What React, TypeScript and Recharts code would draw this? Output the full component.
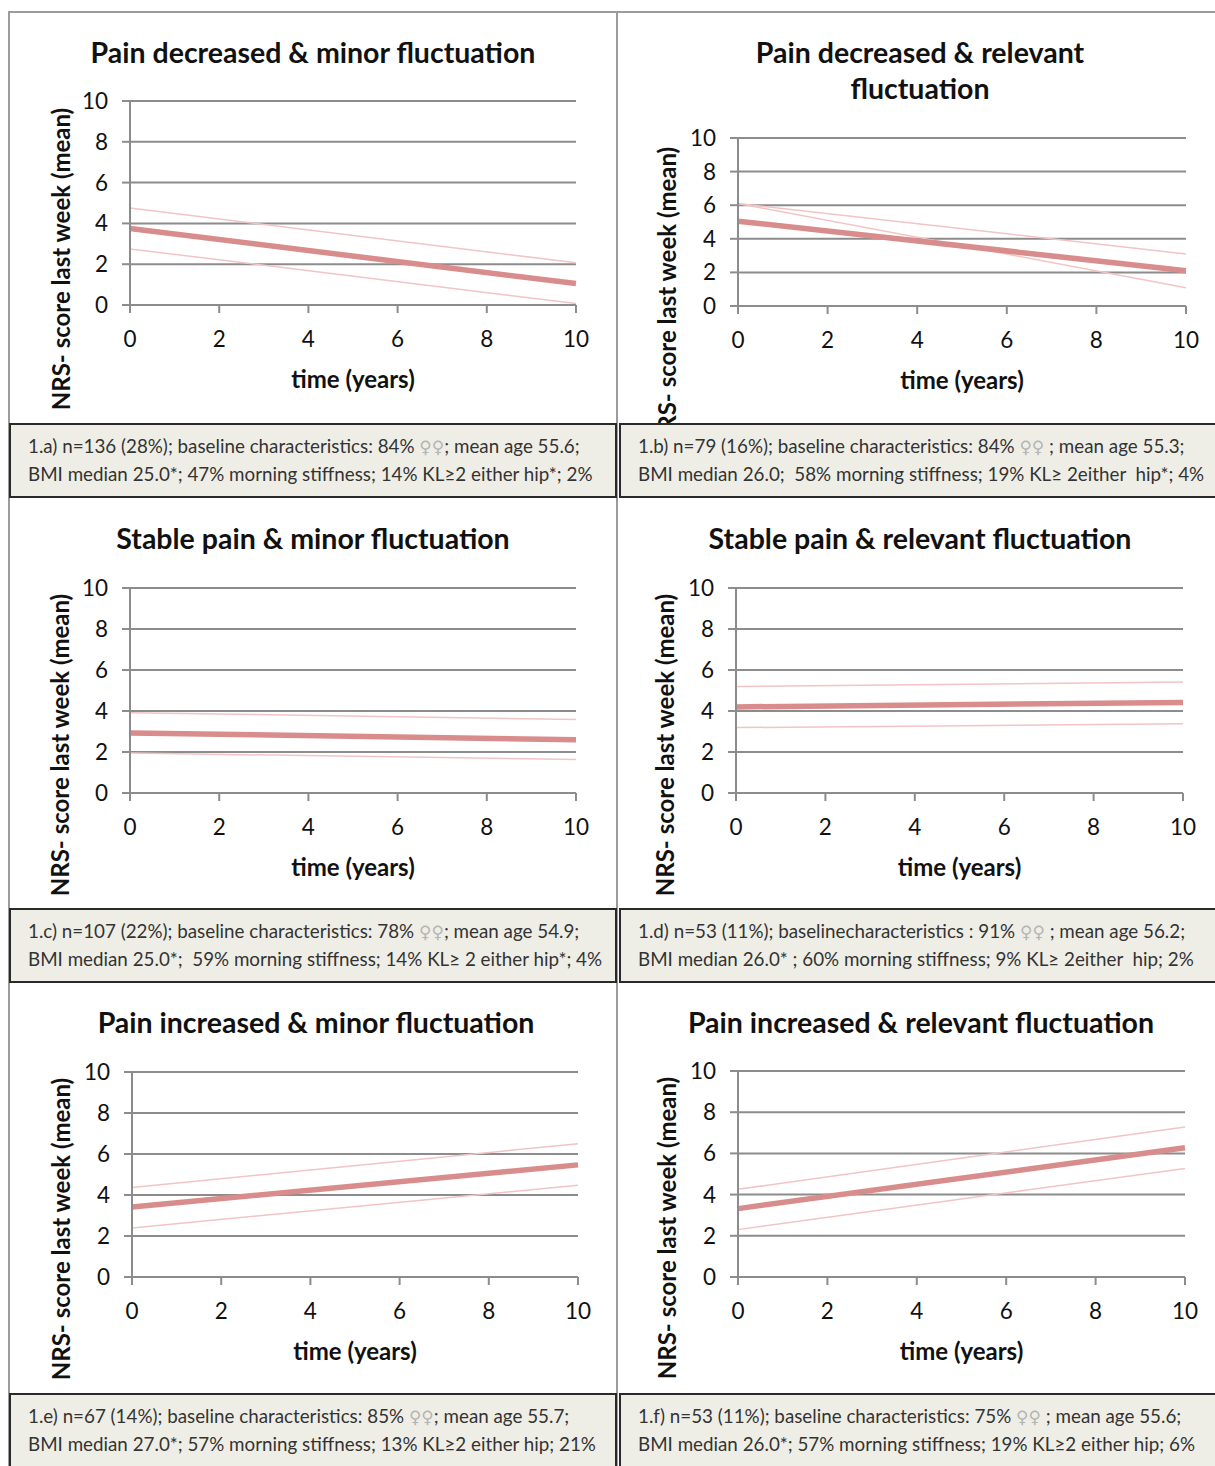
import { LineChart, Line, XAxis, YAxis, CartesianGrid } from 'recharts';

// time axis: fitted lines from year 0 to year 10
const timeYears = [0, 10];
const xTicks = [0, 2, 4, 6, 8, 10];
const yTicks = [0, 2, 4, 6, 8, 10];

const panelTitles = [
  ['Pain decreased & minor fluctuation'],
  ['Pain decreased & relevant', 'fluctuation'],
  ['Stable pain & minor fluctuation'],
  ['Stable pain & relevant fluctuation'],
  ['Pain increased & minor fluctuation'],
  ['Pain increased & relevant fluctuation'],
];

// NRS score at year 0 and year 10, per panel
const meanScore = [[3.75, 1.05], [5.05, 2.1], [2.93, 2.6], [4.2, 4.42], [3.41, 5.47], [3.32, 6.27]];
const upperScore = [[4.75, 2.07], [6.1, 3.1], [3.92, 3.58], [5.2, 5.41], [4.37, 6.5], [4.26, 7.28]];
const lowerScore = [[2.75, 0.07], [6.1, 1.08], [1.95, 1.63], [3.19, 3.38], [2.39, 4.48], [2.3, 5.27]];

const captions = [
  ['1.a) n=136 (28%); baseline characteristics: 84% ♀♀; mean age 55.6;', 'BMI median 25.0*; 47% morning stiffness; 14% KL≥2 either hip*; 2%'],
  ['1.b) n=79 (16%); baseline characteristics: 84% ♀♀ ; mean age 55.3;', 'BMI median 26.0;  58% morning stiffness; 19% KL≥ 2either  hip*; 4%'],
  ['1.c) n=107 (22%); baseline characteristics: 78% ♀♀; mean age 54.9;', 'BMI median 25.0*;  59% morning stiffness; 14% KL≥ 2 either hip*; 4%'],
  ['1.d) n=53 (11%); baselinecharacteristics : 91% ♀♀ ; mean age 56.2;', 'BMI median 26.0* ; 60% morning stiffness; 9% KL≥ 2either  hip; 2%'],
  ['1.e) n=67 (14%); baseline characteristics: 85% ♀♀; mean age 55.7;', 'BMI median 27.0*; 57% morning stiffness; 13% KL≥2 either hip; 21%'],
  ['1.f) n=53 (11%); baseline characteristics: 75% ♀♀ ; mean age 55.6;', 'BMI median 26.0*; 57% morning stiffness; 19% KL≥2 either hip; 6%'],
];

// layout of each plot area on the page
const plotBoxes = [
  { x0: 130, x1: 576, y0: 101, y1: 305, titleX: 313, titleY: 52, yTitleX: 60, yTitleY: 259 },
  { x0: 738, x1: 1186, y0: 138, y1: 306, titleX: 920, titleY: 52, yTitleX: 666, yTitleY: 298 },
  { x0: 130, x1: 576, y0: 588, y1: 793, titleX: 313, titleY: 538, yTitleX: 59, yTitleY: 745 },
  { x0: 736, x1: 1183, y0: 588, y1: 793, titleX: 920, titleY: 538, yTitleX: 664, yTitleY: 745 },
  { x0: 132, x1: 578, y0: 1072, y1: 1277, titleX: 316, titleY: 1022, yTitleX: 60, yTitleY: 1229 },
  { x0: 738, x1: 1185, y0: 1071, y1: 1277, titleX: 921, titleY: 1022, yTitleX: 666, yTitleY: 1228 },
];
const captionTops = [423, 908, 1393];

const FONT = 'Lato, "Open Sans", sans-serif';
const GRID = '#8c8c8c';

function Panel({ i }: { i: number }) {
  const box = plotBoxes[i];
  const padL = 90, padR = 30, padT = 20, padB = 50;
  const w = box.x1 - box.x0 + padL + padR;
  const h = box.y1 - box.y0 + padT + padB;
  const data = timeYears.map((t, k) => ({
    t,
    mean: meanScore[i][k],
    upper: upperScore[i][k],
    lower: lowerScore[i][k],
  }));
  const tick = { fill: '#111', fontSize: 22.5, fontFamily: FONT };

  return (
    <>
      {panelTitles[i].map((line, k) => (
        <div
          key={k}
          style={{
            position: 'absolute', left: box.titleX, top: box.titleY + k * 36,
            transform: 'translate(-50%, -50%)', whiteSpace: 'nowrap',
            fontFamily: FONT, fontWeight: 700, fontSize: 28.5, color: '#111',
          }}
        >
          {line}
        </div>
      ))}
      <div
        style={{
          position: 'absolute', left: box.yTitleX, top: box.yTitleY,
          transform: 'translate(-50%, -50%) rotate(-90deg)', whiteSpace: 'nowrap',
          fontFamily: FONT, fontWeight: 700, fontSize: 24, color: '#111',
        }}
      >
        NRS- score last week (mean)
      </div>
      <div
        style={{
          position: 'absolute', left: (box.x0 + box.x1) / 2, top: box.y1 + 73,
          transform: 'translate(-50%, -50%)', whiteSpace: 'nowrap',
          fontFamily: FONT, fontWeight: 700, fontSize: 24, color: '#111',
        }}
      >
        time (years)
      </div>
      <div style={{ position: 'absolute', left: box.x0 - padL, top: box.y0 - padT }}>
        <LineChart width={w} height={h} data={data} margin={{ top: padT, right: padR, bottom: 0, left: 0 }}>
          <CartesianGrid vertical={false} stroke={GRID} strokeWidth={2} />
          <XAxis
            dataKey="t" type="number" domain={[0, 10]} ticks={xTicks} height={padB} interval={0}
            axisLine={{ stroke: GRID, strokeWidth: 2 }} tickLine={{ stroke: GRID, strokeWidth: 2 }}
            tickSize={8} tickMargin={18} tick={tick}
          />
          <YAxis
            type="number" domain={[0, 10]} ticks={yTicks} width={padL} interval={0}
            axisLine={{ stroke: GRID, strokeWidth: 2 }} tickLine={{ stroke: GRID, strokeWidth: 2 }}
            tickSize={8} tickMargin={14} tick={tick}
          />
          <Line dataKey="upper" type="linear" stroke="#f3c4c4" strokeWidth={1.5} dot={false} isAnimationActive={false} />
          <Line dataKey="lower" type="linear" stroke="#f3c4c4" strokeWidth={1.5} dot={false} isAnimationActive={false} />
          <Line dataKey="mean" type="linear" stroke="#d98c8c" strokeWidth={5.5} dot={false} isAnimationActive={false} />
        </LineChart>
      </div>
    </>
  );
}

function CaptionLine({ text }: { text: string }) {
  const parts = text.split('♀♀');
  return (
    <div style={{ height: 28, lineHeight: '28px', whiteSpace: 'pre' }}>
      {parts[0]}
      {parts.length > 1 && (
        <span style={{ color: '#b4b4b4', fontFamily: '"DejaVu Sans", sans-serif', fontSize: 17 }}>♀♀</span>
      )}
      {parts.length > 1 && parts[1]}
    </div>
  );
}

function Caption({ i }: { i: number }) {
  const row = Math.floor(i / 2);
  const col = i % 2;
  const left = col === 0 ? 9 : 619;
  const width = col === 0 ? 608 : 610;
  return (
    <div
      style={{
        position: 'absolute', left, top: captionTops[row], width, height: 75,
        boxSizing: 'border-box', border: '2px solid #2a2a2a', background: '#efeee6',
        padding: '7px 0 0 17px', fontFamily: FONT, fontSize: 18.8, color: '#333',
      }}
    >
      {captions[i].map((t, k) => <CaptionLine key={k} text={t} />)}
    </div>
  );
}

export default function App() {
  const panels = [0, 1, 2, 3, 4, 5];
  return (
    <div style={{ position: 'absolute', left: 0, top: 0, width: 1215, height: 1466, background: '#fff', overflow: 'hidden' }}>
      {/* frame lines */}
      <div style={{ position: 'absolute', left: 8, top: 11, width: 1207, height: 2, background: '#9c9c9c' }} />
      <div style={{ position: 'absolute', left: 8, top: 11, width: 2, height: 1455, background: '#9c9c9c' }} />
      <div style={{ position: 'absolute', left: 616, top: 11, width: 2, height: 1455, background: '#9c9c9c' }} />
      {panels.map(i => <Panel key={i} i={i} />)}
      {panels.map(i => <Caption key={i} i={i} />)}
    </div>
  );
}
